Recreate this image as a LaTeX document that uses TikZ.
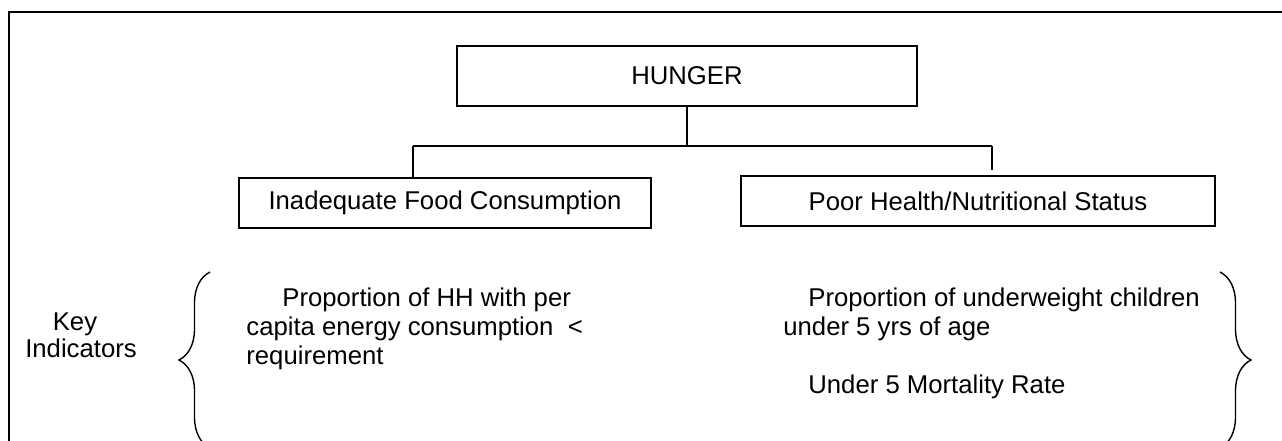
\documentclass[tikz,border=0pt]{standalone}
\usepackage{fontspec}
\setmainfont{Liberation Sans}
\usetikzlibrary{decorations.pathreplacing}

\tikzset{
  box/.style={draw,line width=0.75pt,inner sep=0pt},
  txt/.style={anchor=base west,inner sep=0pt},
  link/.style={line width=0.6pt},
  curly/.style={decorate,decoration={brace,amplitude=15.5pt},line width=0.7pt}
}

\begin{document}
\begin{tikzpicture}[x=0.5pt,y=-0.5pt,font=\fontsize{12.85}{14.5}\selectfont]
\useasboundingbox (0,0) rectangle (1282,440);
\clip (0,0) rectangle (1282,440);

% outer frame, runs off the page
\draw[line width=1pt] (9,480) |- (1300,12);

\node[box,minimum width=230pt,minimum height=30pt] (hunger) at (687,76) {HUNGER};
\node[box,minimum width=206pt,minimum height=25pt] (food) at (445,203) {Inadequate Food Consumption};
\node[box,minimum width=237pt,minimum height=25pt] (health) at (978,201) {Poor Health/Nutritional Status};

\coordinate (jl) at (413,146);
\coordinate (jr) at (992,146);
\coordinate (jrend) at (992,170);
\draw[link] (hunger.south) -- (hunger.south |- jl);
\draw[link] (jl) -- (jr);
\draw[link] (jl) -- (jl |- food.north);
\draw[link] (jr) -- (jrend);

\node[anchor=base,inner sep=0pt] (key) at (75,330) {Key};
\node[anchor=base,inner sep=0pt] (ind) at (81,357) {Indicators};

\draw[curly] (210,448) -- (210,272);
\draw[curly] (1220,272) -- (1220,448);

\node[txt] (l1) at (282,306) {Proportion of HH with per};
\node[txt] (l2) at (246,335) {capita energy consumption~~\textless};
\node[txt] (l3) at (246,364) {requirement};

\node[txt] (r1) at (808,306) {Proportion of underweight children};
\node[txt] (r2) at (783,335) {under 5 yrs of age};
\node[txt] (r3) at (808,393) {Under 5 Mortality Rate};
\end{tikzpicture}
\end{document}
